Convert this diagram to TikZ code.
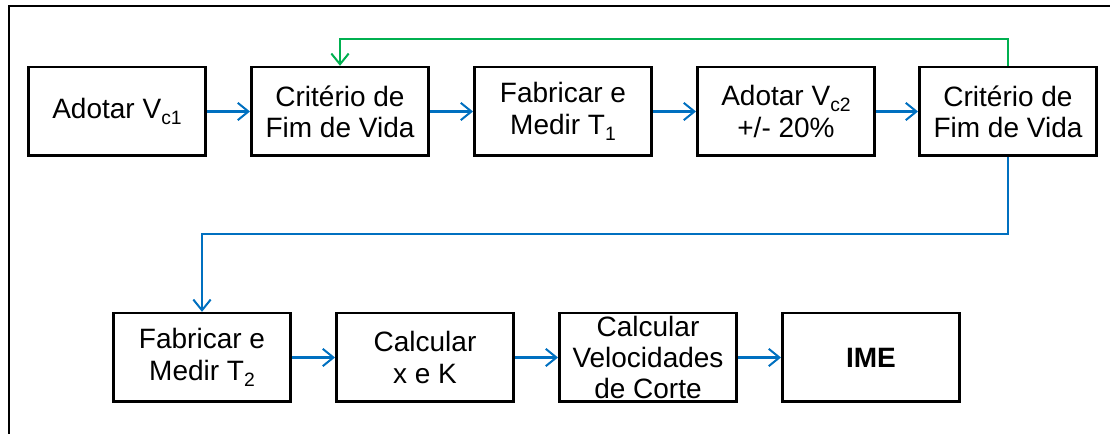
\documentclass[tikz,border=0pt]{standalone}
\usepackage{fontspec}
\setmainfont{Liberation Sans}
\usetikzlibrary{arrows.meta}
\definecolor{flowBlue}{HTML}{0070C0}
\definecolor{loopGreen}{HTML}{00B050}
\newcommand\lowsub[1]{\raisebox{-4.5pt}{\fontsize{14.5}{14.5}\selectfont #1}}
\tikzset{
    stepBox/.style={draw=black,line width=2pt,minimum width=133pt,minimum height=66.5pt,
        inner sep=0pt,align=center,font=\fontsize{21}{23.5}\selectfont},
    flowArrow/.style={draw=flowBlue,line width=1.8pt,
        -{Straight Barb[length=8pt,width=13pt,line width=1.5pt]}},
    loopArrow/.style={flowArrow,draw=loopGreen,line width=1.6pt}
}

\begin{document}
\begin{tikzpicture}[x=0.75pt,y=-0.75pt]

    \useasboundingbox (0,0) rectangle (1110,434);

    %draws outer frame (only top and left edges):
    \draw[line width=2.2pt] (1110,6) -- (9,6) -- (9,434);

    %draws upper row of steps:
    \node[stepBox] (adotarA) at (117,111.5)  {Adotar V\lowsub{c1}};
    \node[stepBox] (criterA) at (340,111.5)  {Critério de\\Fim de Vida};
    \node[stepBox] (fabricA) at (563,111.5)  {Fabricar e\\Medir T\lowsub{1}};
    \node[stepBox] (adotarB) at (786,111.5)  {Adotar V\lowsub{c2}\\+/- 20\%};
    \node[stepBox] (criterB) at (1008,111.5) {Critério de\\Fim de Vida};

    %draws lower row of steps:
    \node[stepBox] (fabricB) at (202,357.5) {Fabricar e\\Medir T\lowsub{2}};
    \node[stepBox] (calcXK)  at (425,357.5) {Calcular\\x e K};
    \node[stepBox] (calcVel) at (648,357.5) {Calcular\\Velocidades\\de Corte};
    \node[stepBox] (ime)     at (871,357.5) {\textbf{IME}};

    %helper points for the routed lines:
    \coordinate (loopTop) at (0,39);
    \coordinate (rowGap)  at (0,234);

    \draw[flowArrow] (adotarA) -- (criterA);
    \draw[flowArrow] (criterA) -- (fabricA);
    \draw[flowArrow] (fabricA) -- (adotarB);
    \draw[flowArrow] (adotarB) -- (criterB);

    %feedback loop back to the first criterion:
    \draw[loopArrow] (criterB.north) -- (criterB.north |- loopTop) -| (criterA.north);

    %down to the second row:
    \draw[flowArrow] (criterB.south) -- (criterB.south |- rowGap) -| (fabricB.north);

    \draw[flowArrow] (fabricB) -- (calcXK);
    \draw[flowArrow] (calcXK) -- (calcVel);
    \draw[flowArrow] (calcVel) -- (ime);

\end{tikzpicture}
\end{document}
